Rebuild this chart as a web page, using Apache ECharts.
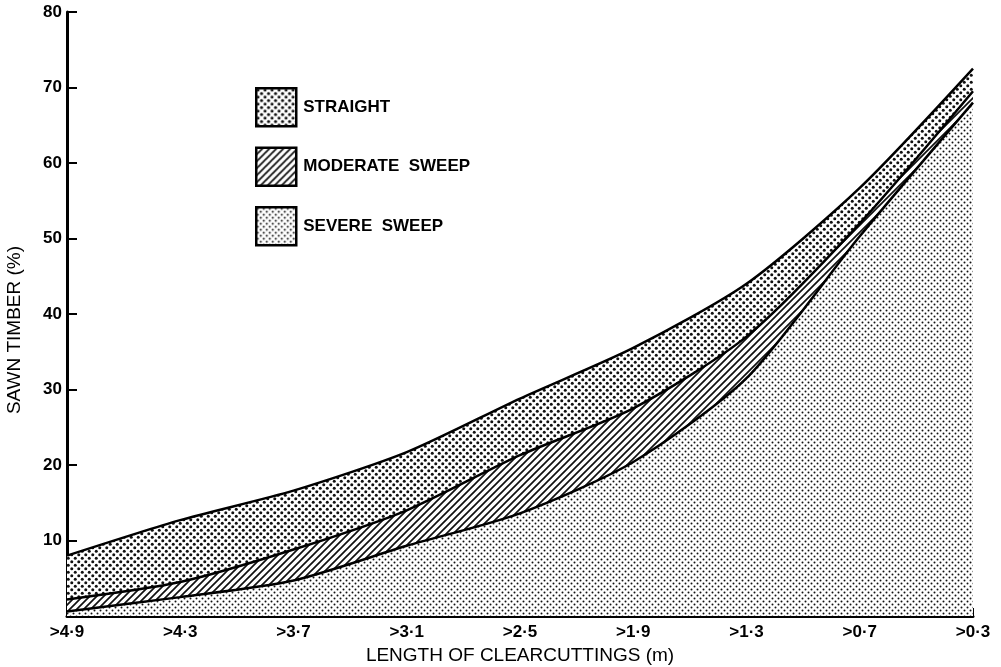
<!DOCTYPE html>
<html>
<head>
<meta charset="utf-8">
<script src="https://cdn.jsdelivr.net/npm/echarts@6/dist/echarts.min.js"></script>
<style>
  html, body { margin: 0; padding: 0; background: #fff; }
  #chart { width: 1001px; height: 667px; }
</style>
</head>
<body>
<div id="chart"></div>
<script>
const categories = ['>4\u00b79', '>4\u00b73', '>3\u00b77', '>3\u00b71', '>2\u00b75', '>1\u00b79', '>1\u00b73', '>0\u00b77', '>0\u00b73'];
const severeSweep = [0.6, 2.5, 4.7, 9.3, 13.6, 20.4, 31.5, 50.3, 68.0];
const moderateSweep = [1.6, 2.0, 4.1, 4.7, 7.7, 7.1, 5.5, 1.7, 1.5];
const straight = [5.8, 8.2, 7.8, 7.7, 7.5, 8.0, 7.0, 4.7, 3.0];
const yTicks = [10, 20, 30, 40, 50, 60, 70, 80];

const FONT = '"Liberation Sans", Arial, sans-serif';

// small canvas tiles used as fill patterns
function dotTile(size, r) {
  const c = document.createElement('canvas');
  c.width = size;
  c.height = size;
  const ctx = c.getContext('2d');
  ctx.fillStyle = '#fff';
  ctx.fillRect(0, 0, size, size);
  ctx.fillStyle = '#111';
  [[size / 4, size / 4], [size * 3 / 4, size * 3 / 4]].forEach(([x, y]) => {
    ctx.beginPath();
    ctx.arc(x, y, r, 0, Math.PI * 2);
    ctx.fill();
  });
  return c;
}

function hatchTile(size, w) {
  const c = document.createElement('canvas');
  c.width = size;
  c.height = size;
  const ctx = c.getContext('2d');
  ctx.fillStyle = '#fff';
  ctx.fillRect(0, 0, size, size);
  ctx.strokeStyle = '#111';
  ctx.lineWidth = w;
  ctx.beginPath();
  ctx.moveTo(-1, size + 1);
  ctx.lineTo(size + 1, -1);
  ctx.moveTo(-size / 2 - 1, size / 2 + 1);
  ctx.lineTo(size / 2 + 1, -size / 2 - 1);
  ctx.moveTo(size / 2 - 1, size * 1.5 + 1);
  ctx.lineTo(size * 1.5 + 1, size / 2 - 1);
  ctx.stroke();
  return c;
}

const coarseDots = { image: dotTile(7, 1.5), repeat: 'repeat' };
const fineDots = { image: dotTile(6, 1.0), repeat: 'repeat' };
const hatch = { image: hatchTile(7, 1.7), repeat: 'repeat' };

const chart = echarts.init(document.getElementById('chart'));

const legendIcon = (fill) => ({
  color: fill,
  borderColor: '#000',
  borderWidth: 2.5
});

const areaSeries = (name, data, fill, z) => ({
  name,
  type: 'line',
  stack: 'total',
  smooth: 0.25,
  showSymbol: false,
  z,
  lineStyle: { color: '#000', width: 2.5 },
  itemStyle: { color: '#000' },
  areaStyle: { color: fill, opacity: 1 },
  data
});

chart.setOption({
  backgroundColor: '#fff',
  animation: false,
  grid: { left: 67, right: 28, top: 12, bottom: 51, containLabel: false, outerBoundsMode: 'none' },
  legend: {
    orient: 'vertical',
    left: 255,
    top: 87,
    padding: 0,
    itemWidth: 40,
    itemHeight: 38,
    itemGap: 19,
    selectedMode: false,
    textStyle: { fontFamily: FONT, fontWeight: 'bold', fontSize: 17, color: '#000', padding: [0, 0, 0, 2] },
    data: [
      { name: 'STRAIGHT', icon: 'rect', itemStyle: legendIcon(coarseDots) },
      { name: 'MODERATE  SWEEP', icon: 'rect', itemStyle: legendIcon(hatch) },
      { name: 'SEVERE  SWEEP', icon: 'rect', itemStyle: legendIcon(fineDots) }
    ]
  },
  xAxis: {
    type: 'category',
    boundaryGap: false,
    data: categories,
    name: 'LENGTH OF CLEARCUTTINGS (m)',
    nameLocation: 'middle',
    nameGap: 30,
    nameTextStyle: { fontFamily: FONT, fontSize: 19, color: '#000' },
    axisLine: { lineStyle: { color: '#000', width: 3 } },
    axisTick: { inside: true, length: 8, lineStyle: { color: '#000', width: 2 } },
    axisLabel: { fontFamily: FONT, fontWeight: 'bold', fontSize: 17, color: '#000', margin: 8 },
    splitLine: { show: false }
  },
  yAxis: {
    type: 'value',
    min: 0,
    max: 80,
    interval: 10,
    name: 'SAWN TIMBER (%)',
    nameLocation: 'middle',
    nameRotate: 90,
    nameGap: 43,
    nameTextStyle: { fontFamily: FONT, fontSize: 19, color: '#000', padding: [0, 32, 0, 0] },
    axisLine: { show: true, lineStyle: { color: '#000', width: 3 } },
    axisTick: { show: true, inside: true, length: 10, lineStyle: { color: '#000', width: 2 } },
    axisLabel: {
      fontFamily: FONT,
      fontWeight: 'bold',
      fontSize: 17,
      color: '#000',
      margin: 5,
      formatter: (v) => (yTicks.includes(v) ? String(v) : '')
    },
    splitLine: { show: false }
  },
  series: [
    areaSeries('SEVERE  SWEEP', severeSweep, fineDots, 4),
    areaSeries('MODERATE  SWEEP', moderateSweep, hatch, 3),
    areaSeries('STRAIGHT', straight, coarseDots, 2)
  ]
});
</script>
</body>
</html>
